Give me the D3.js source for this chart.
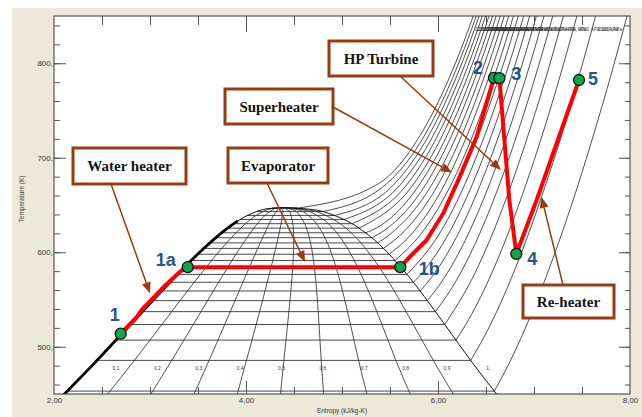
<!DOCTYPE html>
<html><head><meta charset="utf-8">
<script src="https://cdn.jsdelivr.net/npm/d3@7"></script>
<style>body{margin:0;background:#fff}svg{display:block}</style>
</head><body><svg id="c" width="642" height="417"></svg>
<script>
// ---------------- DATA ----------------
// isobars (kPa) with saturation temperature (K) and saturated liquid / vapour entropy (kJ/kg-K)
const pressuresKPa = [1000,2000,3000,4000,5000,6000,7000,8000,9000,10000,11000,12000,13000,14000,15000,16000,17000,18000,19000,20000,21000,22000];
const satTK = [453.06,485.57,507.05,523.55,537.14,548.79,559.03,568.21,576.55,584.21,591.30,597.90,604.08,609.90,615.39,620.59,625.52,630.21,634.69,638.96,643.04,646.86];
const satSf = [2.1387,2.4474,2.6457,2.7964,2.9202,3.0267,3.1211,3.2068,3.2858,3.3596,3.4295,3.4962,3.5606,3.6232,3.6848,3.7461,3.8079,3.8715,3.9388,4.0139,4.1075,4.27];
const satSg = [6.5865,6.3409,6.1869,6.0701,5.9734,5.8892,5.8133,5.7432,5.6772,5.6141,5.5527,5.4924,5.4323,5.3717,5.3098,5.2455,5.1777,5.1044,5.0228,4.9269,4.8013,4.55];

// superheated isobars: entropy at these temperatures (K), one row per pressure (null = not superheated)
const superTK = [473.15,523.15,573.15,623.15,673.15,723.15,773.15,823.15,873.15];
const superS = [
 [6.6940,6.9247,7.1229,7.3011,7.4651,7.6170,7.7622,7.8985,8.0290],
 [null,6.5453,6.7664,6.9563,7.1271,7.2859,7.4317,7.5702,7.7024],
 [null,6.2872,6.5390,6.7428,6.9212,7.0834,7.2338,7.3742,7.5085],
 [null,null,6.3615,6.5821,6.7690,6.9363,7.0901,7.2326,7.3688],
 [null,null,6.2083,6.4492,6.6458,6.8185,6.9758,7.1217,7.2588],
 [null,null,6.0673,6.3334,6.5407,6.7192,6.8802,7.0287,7.1676],
 [null,null,5.9304,6.2282,6.4478,6.6327,6.7975,6.9486,7.0894],
 [null,null,5.7906,6.1301,6.3634,6.5551,6.7240,6.8778,7.0206],
 [null,null,null,6.0365,6.2854,6.4844,6.6576,6.8142,6.9589],
 [null,null,null,5.9443,6.2120,6.4190,6.5966,6.7561,6.9029],
 [null,null,null,5.851,6.144,6.360,6.543,6.705,6.854],
 [null,null,null,5.758,6.076,6.301,6.489,6.654,6.805],
 [null,null,null,5.658,6.010,6.246,6.438,6.607,6.760],
 [null,null,null,5.550,5.945,6.193,6.391,6.564,6.719],
 [null,null,null,5.4421,5.8811,6.1404,6.3443,6.5199,6.6776],
 [null,null,null,5.310,5.817,6.092,6.302,6.481,6.641],
 [null,null,null,null,5.753,6.043,6.259,6.442,6.605],
 [null,null,null,null,5.688,5.995,6.219,6.405,6.570],
 [null,null,null,null,5.621,5.948,6.179,6.370,6.537],
 [null,null,null,null,5.5540,5.9017,6.1401,6.3348,6.5048],
 [null,null,null,null,5.472,5.857,6.104,6.303,6.476],
 [null,null,null,null,5.389,5.811,6.068,6.271,6.447]
];

// saturation dome (by temperature)
const domeTK = [445,448.15,463.15,473.15,483.15,493.15,503.15,513.15,523.15,533.15,543.15,553.15,563.15,573.15,583.15,593.15,603.15,613.15,623.15,628.15,633.15,638.15,643.15,646.15,647.10];
const domeSf = [2.060,2.0906,2.2359,2.3309,2.4248,2.5178,2.6099,2.7015,2.7927,2.8838,2.9751,3.0668,3.1594,3.2534,3.3493,3.4480,3.5507,3.6594,3.7777,3.8438,3.9147,4.000,4.1106,4.23,4.407];
const domeSg = [6.651,6.6256,6.5079,6.4323,6.3585,6.2861,6.2146,6.1437,6.0730,6.0019,5.9301,5.8571,5.7821,5.7045,5.6230,5.5362,5.4417,5.3357,5.2112,5.1373,5.0526,4.94,4.8012,4.59,4.407];

const qualityLines = [0.1,0.2,0.3,0.4,0.5,0.6,0.7,0.8,0.9];
const qualityLabels = ["0,1","0,2","0,3","0,4","0,5","0,6","0,7","0,8","0,9","1,"];
const qualityLabelValues = [0.1,0.2,0.3,0.4,0.5,0.6,0.7,0.8,0.9,1.0];

// cycle path (s, T)
const cycleS = [2.695,2.861,2.913,3.139,3.313,3.393,5.607,5.708,5.882,6.055,6.211,6.403,6.583,6.639,6.743,6.816,7.028,7.469];
const cycleT = [513.8,531.2,538.9,562.9,579.5,584.2,584.2,595.3,613.0,641.2,676.5,722.3,784.5,784.2,655.3,598.2,655.3,782.3];

const stateNames = ["1","1a","1b","2","3","4","5"];
const stateS = [2.695,3.393,5.607,6.583,6.639,6.816,7.469];
const stateT = [513.8,584.2,584.2,784.5,784.2,598.2,782.3];

const annoText = ["Water heater","Evaporator","Superheater","HP Turbine","Re-heater"];
const annoTargetS = [3.00,4.615,6.146,6.656,7.078];
const annoTargetT = [556.6,589.7,684.4,687.0,658.5];

const yMajorTicks = [500,600,700,800];
const xLabelTicks = [2,4,6,8];

// ---------------- LAYOUT ----------------
const P = {l:54, r:630, t:16, b:394};
const stateLabelDx = [-6,-22,29,-16,17,16,14];
const stateLabelDy = [-19,-7,2,-10,-4,5,-1];
const annoBox = [[73,148,113,36],[228,148,100,35],[225,89,108,35],[329,41,104,35],[523,285,91,33]];
const annoStart = [[111,184],[267,183],[333,107],[400,76],[563,285]];

const svg = d3.select("#c");
const x = d3.scaleLinear([2,8],[P.l,P.r]);
const y = d3.scaleLinear([450,850],[P.b,P.t]);

svg.append("rect").attr("width",642).attr("height",417).attr("fill","#fff");
svg.append("rect").attr("x",12).attr("y",8).attr("width",630).attr("height",409).attr("fill","#ECE9D8");
svg.append("rect").attr("x",P.l).attr("y",P.t).attr("width",P.r-P.l).attr("height",P.b-P.t).attr("fill","#fff");

svg.append("clipPath").attr("id","clip").append("rect")
  .attr("x",P.l).attr("y",P.t).attr("width",P.r-P.l).attr("height",P.b-P.t);
const g = svg.append("g").attr("clip-path","url(#clip)");

const lineST = d3.line().x(d=>x(d.s)).y(d=>y(d.T));

// quality lines
qualityLines.forEach(q=>{
  const pts = domeTK.map((T,i)=>({s: domeSf[i]+q*(domeSg[i]-domeSf[i]), T}));
  g.append("path").attr("d", lineST.curve(d3.curveCatmullRom)(pts))
   .attr("fill","none").attr("stroke","#222").attr("stroke-width",0.8);
});

// horizontal isobars inside dome
pressuresKPa.forEach((p,i)=>{
  g.append("path").attr("d", lineST.curve(d3.curveLinear)([{s:satSf[i],T:satTK[i]},{s:satSg[i],T:satTK[i]}]))
   .attr("fill","none").attr("stroke","#333").attr("stroke-width",0.9);
});

// superheated isobars
const topS = [];
pressuresKPa.forEach((p,i)=>{
  const pts=[{s:satSg[i],T:satTK[i]}];
  superS[i].forEach((s,j)=>{ if(s!==null && superTK[j]>satTK[i]) pts.push({s,T:superTK[j]}); });
  g.append("path").attr("d", lineST.curve(d3.curveMonotoneX)(pts))
   .attr("fill","none").attr("stroke","#222").attr("stroke-width",0.8);
  const n=pts.length;
  topS.push(d3.scaleLinear().domain([pts[n-2].T,pts[n-1].T]).range([pts[n-2].s,pts[n-1].s])(850));
});

// dome outline
const domePts = domeTK.map((T,i)=>({s:domeSf[i],T}))
  .concat(domeTK.slice(0,-1).map((T,i)=>({s:domeSg[i],T})).reverse());
g.append("path").attr("d", lineST.curve(d3.curveMonotoneX)(domePts))
  .attr("fill","none").attr("stroke","#111").attr("stroke-width",1);
// compressed-liquid bundle (thick)
g.append("path").attr("d", lineST.curve(d3.curveMonotoneX)(domeTK.map((T,i)=>({s:domeSf[i],T})).filter(d=>d.T<=636)))
  .attr("fill","none").attr("stroke","#000").attr("stroke-width",2.8);

// quality labels
const sfAt = d3.scaleLinear().domain(domeTK).range(domeSf);
const sgAt = d3.scaleLinear().domain(domeTK).range(domeSg);
const labelT = 461;
qualityLabelValues.forEach((q,i)=>{
  svg.append("text").attr("x", x(sfAt(labelT)+q*(sgAt(labelT)-sfAt(labelT))))
    .attr("y", y(labelT)-14).attr("text-anchor","middle")
    .attr("font-family","Liberation Sans, Arial, sans-serif").attr("font-size",5).attr("fill","#333")
    .text(qualityLabels[i]);
});

// isobar labels along top
pressuresKPa.forEach((p,i)=>{
  const t = `${p}, kPa`;
  const w = t.length*2.3;
  const xs = Math.min(x(topS[i])+2, 622-w);
  svg.append("text").attr("x", xs).attr("y", 31)
    .attr("font-family","Liberation Sans, Arial, sans-serif").attr("font-size",4.6).attr("fill","#333")
    .text(t);
});

// plot border
svg.append("rect").attr("x",P.l).attr("y",P.t).attr("width",P.r-P.l).attr("height",P.b-P.t)
  .attr("fill","none").attr("stroke","#333").attr("stroke-width",1);

// axes ticks
const minorT = d3.range(460,850,20);
const minorS = d3.range(2.5,8,0.5);
function ticks(axis, tx, ty){
  const a = svg.append("g").attr("transform",`translate(${tx},${ty})`).call(axis);
  a.select(".domain").remove();
  a.selectAll("line").attr("stroke","#555");
  return a;
}
ticks(d3.axisRight(y).tickValues(minorT).tickSize(6).tickFormat(""), P.l, 0);
ticks(d3.axisRight(y).tickValues(yMajorTicks).tickSize(12).tickFormat(""), P.l, 0);
ticks(d3.axisLeft(y).tickValues(minorT).tickSize(5).tickFormat(""), P.r, 0);
ticks(d3.axisLeft(y).tickValues(yMajorTicks).tickSize(11).tickFormat(""), P.r, 0);
ticks(d3.axisBottom(x).tickValues(minorS).tickSize(9).tickFormat(""), 0, P.t);
ticks(d3.axisBottom(x).tickValues([4,6]).tickSize(16).tickFormat(""), 0, P.t);
ticks(d3.axisTop(x).tickValues(minorS).tickSize(7).tickFormat(""), 0, P.b);
ticks(d3.axisTop(x).tickValues([4,6]).tickSize(13).tickFormat(""), 0, P.b);

const yl = ticks(d3.axisLeft(y).tickValues(yMajorTicks).tickSize(0).tickPadding(1).tickFormat(d=>d+","), P.l, 0);
yl.selectAll("text").attr("font-family","Liberation Sans, Arial, sans-serif").attr("font-size",8).attr("fill","#333");
const xl = ticks(d3.axisBottom(x).tickValues(xLabelTicks).tickSize(0).tickPadding(3).tickFormat(d=>d.toFixed(2).replace(".",",")), 0, P.b);
xl.selectAll("text").attr("font-family","Liberation Sans, Arial, sans-serif").attr("font-size",8).attr("fill","#333");

svg.append("text").attr("x",(P.l+P.r)/2).attr("y",413).attr("text-anchor","middle")
  .attr("font-family","Liberation Sans, Arial, sans-serif").attr("font-size",6.5).attr("fill","#333")
  .text("Entropy (kJ/kg-K)");
svg.append("text").attr("transform","translate(24,199) rotate(-90)").attr("text-anchor","middle")
  .attr("font-family","Liberation Sans, Arial, sans-serif").attr("font-size",6.5).attr("fill","#333")
  .text("Temperature (K)");

// cycle path
const cyc = cycleS.map((s,i)=>({s,T:cycleT[i]}));
svg.append("path").attr("d", lineST.curve(d3.curveLinear)(cyc))
  .attr("fill","none").attr("stroke","#FF0000").attr("stroke-width",4)
  .attr("stroke-linejoin","round").attr("stroke-linecap","round");

// annotations
const brown = "#9A3A10";
annoText.forEach((t,i)=>{
  const [bx,by,bw,bh] = annoBox[i];
  const [sx,sy] = annoStart[i];
  const tx = x(annoTargetS[i]), ty = y(annoTargetT[i]);
  const dx=tx-sx, dy=ty-sy, L=Math.hypot(dx,dy), ux=dx/L, uy=dy/L;
  const hl=11, hw=4.5, bxp=tx-ux*hl, byp=ty-uy*hl;
  svg.append("line").attr("x1",sx).attr("y1",sy).attr("x2",bxp).attr("y2",byp)
    .attr("stroke",brown).attr("stroke-width",1.5);
  svg.append("path").attr("d",`M${tx},${ty}L${bxp-uy*hw},${byp+ux*hw}L${bxp+uy*hw},${byp-ux*hw}Z`).attr("fill",brown);
  svg.append("rect").attr("x",bx).attr("y",by).attr("width",bw).attr("height",bh)
    .attr("fill","#fff").attr("stroke",brown).attr("stroke-width",3);
  svg.append("text").attr("x",bx+bw/2).attr("y",by+bh/2+5).attr("text-anchor","middle")
    .attr("font-family","Liberation Serif, Times New Roman, serif").attr("font-weight","bold")
    .attr("font-size",15).attr("fill","#141414").text(t);
});

// state points
stateNames.forEach((n,i)=>{
  svg.append("circle").attr("cx",x(stateS[i])).attr("cy",y(stateT[i])).attr("r",5.5)
    .attr("fill","#0BA84A").attr("stroke","#111").attr("stroke-width",1.3);
});
stateNames.forEach((n,i)=>{
  svg.append("text").attr("x",x(stateS[i])+stateLabelDx[i]).attr("y",y(stateT[i])+stateLabelDy[i])
    .attr("text-anchor","middle").attr("dominant-baseline","central")
    .attr("font-family","Liberation Sans, Arial, sans-serif").attr("font-weight","bold")
    .attr("font-size",18).attr("fill","#26548F").text(n);
});
</script></body></html>
